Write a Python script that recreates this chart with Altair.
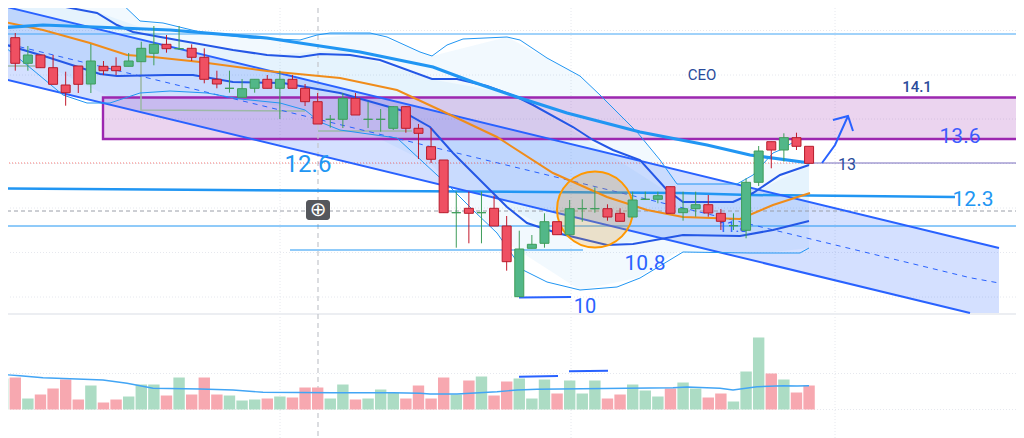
import altair as alt
import pandas as pd

# ---- candles (chart rows, top = small) ----
first_x, step = 2.67, 12.6
body_top = [37.7,37.7,55,55,67.7,85,66,61,66.3,66.3,61,48.3,44.3,44.3,48.7,48.3,57.3,79.3,88.3,88.7,79.3,79.3,79.3,79.3,88.3,101.7,119.3,98.3,98.3,119.3,119.3,106.7,106.7,128.3,146.7,160,212.7,208.3,212.7,208.3,226,249,244.3,221.7,221.7,208.7,208.7,208.7,208.7,213.3,200,199.3,195.7,186.7,208.7,204.7,204.7,213.3,225.7,182.3,151,141.7,137.7,137.7,146.3]
body_bot = [54.3,63.3,63.3,67.7,84.3,92.7,84.3,84,70.7,70.7,66.3,61.7,53.3,48.7,48.7,57.3,79.3,84,88.3,97.3,88.3,88.3,88.3,88.3,101.7,124,119.3,119.3,115,119.3,119.3,128.3,128.3,133.3,159.3,212.7,212.7,213.3,212.7,226,261.7,296.7,248.3,243.3,234.7,234.7,208.7,208.7,217,221.3,217,199.3,199.3,213.3,212.7,208.7,213,221.3,225.7,230.3,182.3,150,150,146.3,163.3]
wick_top = [30,33,46,55,55,71.7,66,44,61,57.3,53,41.7,26,35,26,44.3,48.3,70.7,70.7,79,79.3,75,70.7,75,84,93,115,93,93,101.7,109,106,106,124,128,160,191.7,191.7,191.7,195.7,216,230.7,235,213.3,221.7,200,199.3,187.3,204.3,208.3,191.7,191.7,191.7,186.7,191.7,191.7,195,209,213.3,178.3,146,141.7,133.3,132.7,146.3]
wick_bot = [54.3,70.7,70.7,67.7,84.3,105.7,93,93,75,75,66.3,61.7,65.3,52.7,50,61,83.3,88.3,92.7,97.3,92.7,88.3,119,88.3,106,124,127.7,128,115,128,131.7,130,132.7,159,163,212.7,247.7,243.3,243.3,226,270.7,296.7,248.3,247.7,234.7,234.7,221.7,212.7,220.7,221.3,217,200,203.3,213.3,220.7,216.7,216.7,230,230,238.3,186,168.3,161.7,150,163.3]
candle_dir = "GRGRRRRGRRGGGRGRRRGGGRGRRRGGRGGGRRRRGRGRRGGGRGGGRRGGGRGGRRGGGRGRR"

# ---- volume (bar height) ----
volume = [31,32,11,15,21,30,10,24,7,10,13,25,25,14,32,15,32,15,14,9,10,11,13,12,22,22,11,25,10,11,20,17,11,24,11,32,15,29,33,14,28,31,11,30,16,29,16,29,11,15,25,19,13,21,27,21,12,16,8,38,72,36,30,17,24]

vol_ma_x = [0,20,43,77,103,127,153,200,233,263,333,393,420,430,457,497,517,537,627,673,687,720,733,757,783,797,809]
vol_ma_y = [374.3,375.7,377.7,379,380,383.3,388.3,389,390,392.3,392.7,392.7,393.3,394,394,391.7,390,389.3,388.3,387.7,387,388.3,390,386.7,385.7,386,385.7]

# ---- indicator lines ----
bb_up_x = [118,140,163,200,250,300,317,330,370,387,420,432,447,463,507,520,547,580,600,637,660,677,737,753,773,780,792]
bb_up_y = [0,21,23,32,38,40,35,33,33,37,52,56,45,39,37,40,58,76,95,132,160,184,184,175,153,150,143]
bb_lo_x = [0,33,63,87,110,140,170,207,240,280,305,320,340,397,450,473,497,523,547,580,617,640,683,750,800,809]
bb_lo_y = [43,70,95,103,103,93,91,93,99,103,110,122,130,138,187,210,233,270,282,290,287,278,252,253,253,248]

fill_x = [0,118,140,200,300,370,432,507,580,637,677,737,753,765,809]
fill_top = [-5,0,21,32,40,33,56,37,76,132,184,184,175,163,163]
fill_bot = [43,101,93,92,110,134,165,243,290,278,252,253,253,253,248]

inner_x = [0,100,177,267,340,430,507,557,607,683,740,809]
inner_top = [0,13,40,55,50,79,93,120,153,202,200,165]
inner_bot = [43,74,75,83,93,127,207,233,245,235,236,221]

in_up_x = [0,55,97,117,133,177,233,267,300,320,350,380,432,457,487,517,533,573,593,613,640,667,683,733,753,780,809]
in_up_y = [0,5,13,25,32,40,50,55,57,54,55,60,79,79,86,97,105,127,140,150,160,190,202,202,193,175,165]
in_lo_x = [0,47,100,117,167,193,233,283,340,400,430,453,483,507,527,557,607,633,683,740,773,809]
in_lo_y = [43,57,74,76,75,75,82,83,93,110,127,153,183,207,223,233,245,244,235,236,230,221]
ma_thick_x = [0,43,120,170,267,300,360,433,473,517,567,640,707,750,810]
ma_thick_y = [28,25,28,30,38,43,52,67,82,97,113,132,145,155,163]
orange_x = [0,43,90,127,153,200,267,340,397,440,497,553,607,647,683,740,773,810]
orange_y = [21,30,43,55,57,62,71,78,90,110,137,173,197,210,217,219,205,193]

# ---- channel ----
chan_x = [0,970,999]
chan_up = [5.4,241,248]
chan_lo = [78,313,313]
chan_mid = [42,277.7,283]

grid_rows = [30.5,75,119,163.5,208,252.5,297,373.5,409.5]
grid_cols = [2.5,280,571,835]

X = dict(scale=alt.Scale(domain=[8,1016], range=[0,1008], padding=0, nice=False, zero=False), axis=None, title=None)
Y = dict(scale=alt.Scale(domain=[8,438], range=[0,430], padding=0, nice=False, zero=False), axis=None, title=None)
x_ = lambda f="x": alt.X(f"{f}:Q", **X)
y_ = lambda f="y": alt.Y(f"{f}:Q", **Y)

def poly(xs, ys, color, width=1.0, dash=None, opacity=1.0):
    kw = dict(color=color, strokeWidth=width, opacity=opacity, clip=True)
    if dash:
        kw["strokeDash"] = dash
    return alt.Chart(pd.DataFrame({"x": xs, "y": ys})).mark_line(**kw).encode(x=x_(), y=y_())

line = poly

def band(xs, top, bot, color, opacity, interp="linear"):
    return alt.Chart(pd.DataFrame({"x": xs, "y": top, "y2": bot})).mark_area(
        color=color, opacity=opacity, clip=True, interpolate=interp
    ).encode(x=x_(), y=y_(), y2="y2:Q")

def label(t, x, y, size, color, font="Roboto", weight="normal"):
    return alt.Chart(pd.DataFrame({"x": [x], "y": [y], "t": [t]})).mark_text(
        fontSize=size, color=color, font=font, fontWeight=weight, align="center", baseline="middle"
    ).encode(x=x_(), y=y_(), text="t:N")

layers = []

# grid
layers.append(alt.Chart(pd.DataFrame({"y": grid_rows})).mark_rule(color="#e6e8ee", strokeWidth=1, strokeDash=[1,2], clip=True).encode(y=y_()))
layers.append(alt.Chart(pd.DataFrame({"x": grid_cols})).mark_rule(color="#e6e8ee", strokeWidth=1, strokeDash=[1,2], clip=True).encode(x=x_()))
layers.append(poly([0,1024],[314,314],"#eceef2",2))

# fills
layers.append(band(fill_x, fill_top, fill_bot, "#2196f3", 0.06))
layers.append(band(inner_x, inner_top, inner_bot, "#2196f3", 0.06))
layers.append(band(chan_x, chan_up, chan_lo, "#2962ff", 0.2))
layers.append(alt.Chart(pd.DataFrame({"x":[103],"x2":[1030],"y":[97.5],"y2":[139]})).mark_rect(
    fill="#9c27b0", fillOpacity=0.2, stroke="#9c27b0", strokeWidth=2.4, clip=True
).encode(x=x_(), x2="x2:Q", y=y_(), y2="y2:Q"))

# price / crosshair / horizontals
layers.append(poly([0,1024],[211,211],"#9a9ea8",1,dash=[4,3]))
layers.append(alt.Chart(pd.DataFrame({"x":[318]})).mark_rule(color="#c4c6cc", strokeWidth=1.2, strokeDash=[5,4], clip=True).encode(x=x_()))
layers.append(poly([0,809],[163,163],"#ef5350",0.8,dash=[1,2]))
layers.append(poly([809,1024],[163,163],"#6a5bb5",0.9))
layers.append(poly([0,1024],[34,34],"#42a5f5",1))
layers.append(poly([0,1024],[226,226],"#2196f3",1))
layers.append(poly([290,583],[250,250],"#2196f3",1))
layers.append(poly([0,340,680,750,955],[188.5,190.7,193,195,197],"#2196f3",2.5))
layers.append(poly([519,571],[297.5,297],"#2962ff",2))

# annotation stubs
ann = "#9db8a8"
layers.append(poly([141,141,305],[62,110,111],ann,1.6))
layers.append(poly([318,412],[131,131],ann,1.6))
layers.append(poly([0,35],[66,66],ann,1.6))

# channel lines
layers.append(poly(chan_x[:2]+[999], chan_up, "#2962ff", 2))
layers.append(poly(chan_x[:2], chan_lo[:2], "#2962ff", 2))
layers.append(poly(chan_x[:2]+[999], chan_mid, "#2962ff", 1, dash=[5,5]))

# indicators
layers.append(line(bb_up_x, bb_up_y, "#2196f3", 1))
layers.append(line(bb_lo_x, bb_lo_y, "#2196f3", 1))
layers.append(line(in_up_x, in_up_y, "#2457e6", 2))
layers.append(line(in_lo_x, in_lo_y, "#2457e6", 2))
layers.append(line(orange_x, orange_y, "#f08c1a", 2))
layers.append(line(ma_thick_x, ma_thick_y, "#2196f3", 3.2))

# circle
layers.append(alt.Chart(pd.DataFrame({"x":[595],"y":[209.5]})).mark_point(
    shape="circle", size=5776, fill="#ff9800", fillOpacity=0.2, stroke="#ff9800", strokeWidth=2, opacity=1
).encode(x=x_(), y=y_()))

# labels under candles
layers.append(label("11.8", 733, 227, 15, "#2962ff"))

# candles
df = pd.DataFrame({
    "session": list(range(len(body_top))),
    "o": body_top, "c": body_bot, "h": wick_top, "l": wick_bot,
    "d": list(candle_dir),
})
df["x"] = first_x + step * df["session"]
col = alt.Color("d:N", scale=alt.Scale(domain=["G","R"], range=["#3f9d5a","#c2182b"]), legend=None)
fillc = alt.Fill("d:N", scale=alt.Scale(domain=["G","R"], range=["#52b788","#ef5062"]), legend=None)
strokec = alt.Stroke("d:N", scale=alt.Scale(domain=["G","R"], range=["#3f9d5a","#b71c2c"]), legend=None)
layers.append(alt.Chart(df).mark_rule(strokeWidth=1, clip=True).encode(x=x_(), y=y_("h"), y2="l:Q", color=col))
layers.append(alt.Chart(df).mark_bar(width=9, strokeWidth=1, clip=True).encode(x=x_(), y=y_("o"), y2="c:Q", fill=fillc, stroke=strokec))

# volume (own scale, zero at its baseline)
vdf = pd.DataFrame({"session": list(range(len(volume))), "v": volume, "d": list(candle_dir)})
vdf["x"] = first_x + step * vdf["session"]
vdf["zero"] = 0
VY = dict(scale=alt.Scale(domain=[401.5,-28.5], range=[0,430], padding=0, nice=False, zero=False), axis=None, title=None)
vcol = alt.Fill("d:N", scale=alt.Scale(domain=["G","R"], range=["#acdcc4","#f7a8b0"]), legend=None)
layers.append(alt.Chart(vdf).mark_bar(width=11.4, clip=True).encode(x=x_(), y=alt.Y("v:Q", **VY), y2="zero:Q", fill=vcol))
layers.append(line(vol_ma_x, vol_ma_y, "#42a5f5", 1.4))
layers.append(poly([519,558],[376.7,376],"#2962ff",2))
layers.append(poly([569,608],[371.3,370.7],"#2962ff",2))

# arrow
layers.append(line([822,835,848],[163,145,116],"#2962ff",2))
layers.append(poly([833,848,853],[120,116,131],"#2962ff",2))

# texts
layers.append(label("CEO", 702, 75, 15, "#2a4b9b"))
layers.append(label("14.1", 917, 87, 15, "#2a4b9b", weight=500))
layers.append(label("13.6", 960, 137, 21, "#3d5afe"))
layers.append(label("13", 847, 165, 16, "#2a4b9b"))
layers.append(label("12.3", 973, 200, 21, "#2196f3"))
layers.append(label("12.6", 308, 165, 24, "#2196f3"))
layers.append(label("10.8", 645, 264, 21, "#2962ff"))
layers.append(label("10", 585, 307, 20, "#2962ff"))

# crosshair "+" button
layers.append(alt.Chart(pd.DataFrame({"x":[306],"x2":[330],"y":[200],"y2":[220]})).mark_rect(
    fill="#55575c", cornerRadius=3).encode(x=x_(), x2="x2:Q", y=y_(), y2="y2:Q"))
layers.append(label("\u2295", 318, 209.5, 20, "#ffffff", font="DejaVu Sans"))

chart = alt.layer(*layers).resolve_scale(y="independent", color="independent", fill="independent", stroke="independent").properties(
    width=1008, height=430, padding=0, autosize=alt.AutoSizeParams(type="none"),
    background="#ffffff",
).configure_view(stroke=None)

chart.save("out.html", embed_options={"renderer": "svg", "actions": False})
